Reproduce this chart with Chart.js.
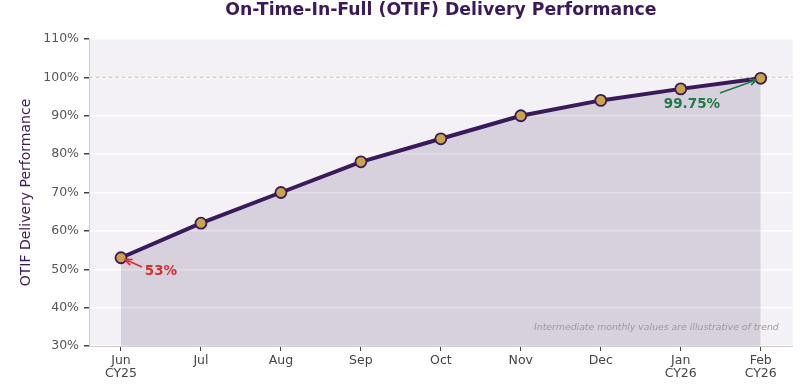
<!DOCTYPE html>
<html>
<head>
<meta charset="utf-8">
<script src="https://cdn.jsdelivr.net/npm/chart.js@4/dist/chart.umd.min.js"></script>
<style>
  html, body { margin: 0; padding: 0; background: #ffffff; }
  #wrap { width: 800px; height: 390px; }
</style>
</head>
<body>
<div id="wrap"><canvas id="otifChart" width="800" height="390"></canvas></div>
<script>
// chart data
const months = [["Jun", "CY25"], "Jul", "Aug", "Sep", "Oct", "Nov", "Dec", ["Jan", "CY26"], ["Feb", "CY26"]];
const otifValues = [53, 62, 70, 78, 84, 90, 94, 97, 99.75];
const yTicks = [30, 40, 50, 60, 70, 80, 90, 100, 110];

const purple = "#3b1a5a";
const font = "'DejaVu Sans', sans-serif";

// draws the plot background, target line, title and the annotations
const decorations = {
    id: "decorations",
    beforeDraw(chart) {
        const { ctx, chartArea: a } = chart;
        ctx.save();
        ctx.fillStyle = "#f3f1f6";
        ctx.fillRect(a.left, a.top, a.right - a.left, a.bottom - a.top);
        ctx.restore();
    },
    beforeDatasetsDraw(chart) {
        const { ctx, chartArea: a, scales } = chart;
        const y100 = scales.y.getPixelForValue(100);
        ctx.save();
        ctx.strokeStyle = "#e8d09a";
        ctx.lineWidth = 1.2;
        ctx.setLineDash([4, 2.5]);
        ctx.beginPath();
        ctx.moveTo(a.left, y100);
        ctx.lineTo(a.right, y100);
        ctx.stroke();
        ctx.restore();
    },
    afterDraw(chart) {
        const { ctx, chartArea: a, scales } = chart;
        const x = scales.x, y = scales.y;
        ctx.save();

        // title
        ctx.fillStyle = purple;
        ctx.font = "bold 17.3px " + font;
        ctx.textAlign = "center";
        ctx.textBaseline = "middle";
        ctx.fillText("On-Time-In-Full (OTIF) Delivery Performance", (a.left + a.right) / 2, 11);

        // y axis title
        ctx.save();
        ctx.translate(26, (a.top + a.bottom) / 2);
        ctx.rotate(-Math.PI / 2);
        ctx.font = "14px " + font;
        ctx.fillText("OTIF Delivery Performance", 0, 0);
        ctx.restore();

        // annotations
        function annotate(text, color, px, py, tx, ty, ax, ay) {
            const p = [x.getPixelForValue(px), y.getPixelForValue(py)];
            const t = [x.getPixelForValue(tx), y.getPixelForValue(ty)];
            ctx.font = "bold 13.5px " + font;
            ctx.fillStyle = color;
            ctx.textAlign = "center";
            ctx.textBaseline = "middle";
            ctx.fillText(text, t[0], t[1]);
            const s = [t[0] + ax, t[1] + ay];
            const ang = Math.atan2(p[1] - s[1], p[0] - s[0]);
            const e = [p[0] - Math.cos(ang) * 4, p[1] - Math.sin(ang) * 4];
            ctx.strokeStyle = color;
            ctx.lineWidth = 1.6;
            ctx.beginPath();
            ctx.moveTo(s[0], s[1]);
            ctx.lineTo(e[0], e[1]);
            ctx.stroke();
            ctx.beginPath();
            ctx.moveTo(e[0], e[1]);
            ctx.lineTo(e[0] - Math.cos(ang - 0.4) * 8, e[1] - Math.sin(ang - 0.4) * 8);
            ctx.moveTo(e[0], e[1]);
            ctx.lineTo(e[0] - Math.cos(ang + 0.4) * 8, e[1] - Math.sin(ang + 0.4) * 8);
            ctx.stroke();
        }
        annotate("53%", "#d62f2f", 0, 53, 0.5, 49.3, -19, -5);
        annotate("99.75%", "#1f7a47", 8, 99.75, 7.14, 93.06, 28, -11);

        // footnote
        ctx.font = "italic 9.3px " + font;
        ctx.fillStyle = "#9a9a9a";
        ctx.textAlign = "right";
        ctx.textBaseline = "middle";
        ctx.fillText("Intermediate monthly values are illustrative of trend", a.right - 14, 328);

        ctx.restore();
    }
};

const ctx = document.getElementById("otifChart").getContext("2d");

new Chart(ctx, {
    type: "line",
    data: {
        datasets: [{
            data: otifValues.map((v, i) => ({ x: i, y: v })),
            borderColor: purple,
            borderWidth: 4,
            backgroundColor: "rgba(59, 26, 90, 0.15)",
            fill: "start",
            tension: 0,
            pointRadius: 5.5,
            pointBackgroundColor: "#c9a44a",
            pointBorderColor: purple,
            pointBorderWidth: 1.8
        }]
    },
    options: {
        responsive: false,
        animation: false,
        layout: { padding: { top: 39, right: 7, left: 0, bottom: 0 } },
        plugins: {
            legend: { display: false },
            tooltip: { enabled: false }
        },
        scales: {
            x: {
                type: "linear",
                min: -0.4,
                max: 8.4,
                afterBuildTicks: (s) => { s.ticks = months.map((m, i) => ({ value: i })); },
                afterFit: (s) => { s.height = 44; },
                ticks: {
                    callback: (v) => months[v],
                    color: "#444",
                    font: { family: font, size: 12.5, lineHeight: 1.05 },
                    padding: 3,
                    maxRotation: 0,
                    autoSkip: false
                },
                grid: {
                    drawOnChartArea: false,
                    drawTicks: true,
                    tickLength: 5,
                    tickColor: "#444"
                },
                border: { color: "#cccccc", width: 1 }
            },
            y: {
                min: 30,
                max: 110,
                afterBuildTicks: (s) => { s.ticks = yTicks.map(v => ({ value: v })); },
                afterFit: (s) => { s.width = 89; },
                ticks: {
                    callback: (v) => v + "%",
                    color: "#555",
                    font: { family: font, size: 12.5 },
                    padding: 5
                },
                grid: {
                    color: "#ffffff",
                    lineWidth: 1.5,
                    tickLength: 5,
                    tickColor: "#444"
                },
                border: { color: "#cccccc", width: 1 }
            }
        }
    },
    plugins: [decorations]
});
</script>
</body>
</html>
